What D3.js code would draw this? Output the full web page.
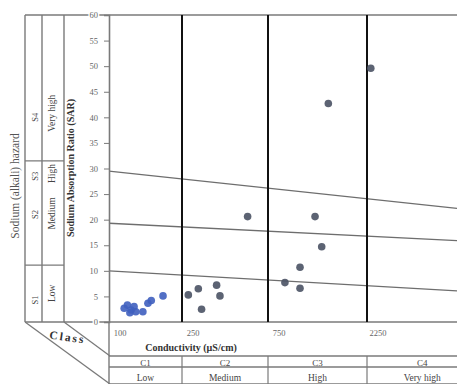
<!DOCTYPE html>
<html><head><meta charset="utf-8">
<script src="https://cdn.jsdelivr.net/npm/d3@7"></script>
<style>
body{margin:0;background:#fff}
svg{display:block}
text{font-family:"Liberation Serif","Times New Roman",serif}
</style>
</head><body>
<svg id="c" width="457" height="384"></svg>
<script>
// ---- data ----
const ecTicks = [100, 250, 750, 2250];
const ecTickLabels = ["100", "250", "750", "2250"];
const sarTicks = [0, 5, 10, 15, 20, 25, 30, 35, 40, 45, 50, 55, 60];
const classCodes = ["C1", "C2", "C3", "C4"];
const classNames = ["Low", "Medium", "High", "Very high"];
const classBounds = [100, 250, 750, 2250, 7500];
const sCodes = ["S1", "S2", "S3", "S4"];
const sNames = ["Low", "Medium", "High", "Very high"];
const sCodeAt = [4.3, 21, 28.5, 40];
const sNameAt = [5.6, 21.2, 29, 40.8];
const sPanelBounds = [11.1, 31.5];
// sodium hazard boundary lines (SAR at EC start / end)
const boundaryEC = [100, 6000];
const boundaryS1S2 = [10.0, 6.1];
const boundaryS2S3 = [19.3, 15.9];
const boundaryS3S4 = [29.5, 22.2];
// samples
const blueEC  = [121, 126, 132, 137, 140, 153, 130, 163, 170, 197];
const blueSAR = [2.7, 3.3, 2.35, 3.0, 2.0, 2.0, 1.8, 3.65, 4.2, 5.1];
const greyEC  = [271, 308, 389, 406, 321, 578, 905, 1070, 1070, 1264, 1361, 1465, 2345];
const greySAR = [5.3, 6.5, 7.2, 5.1, 2.5, 20.6, 7.7, 6.6, 10.7, 20.6, 14.7, 42.7, 49.6];

// ---- layout ----
const svg = d3.select("#c");
const x = d3.scaleLog().domain([100, 250, 750, 2250, 6000]).range([109, 182, 268, 367, 457]);
const y = d3.scaleLinear().domain([0, 60]).range([322, 15]);
const gray = "#7a7a7a";
const panelX = [25, 42, 64];

svg.append("line").attr("x1", 25).attr("x2", 457).attr("y1", y(60)).attr("y2", y(60))
  .attr("stroke", gray).attr("stroke-width", 1.6);
svg.append("line").attr("x1", 25).attr("x2", 457).attr("y1", y(0)).attr("y2", y(0))
  .attr("stroke", gray).attr("stroke-width", 1.4);
panelX.forEach(px => svg.append("line").attr("x1", px).attr("x2", px).attr("y1", y(60)).attr("y2", y(0))
  .attr("stroke", gray).attr("stroke-width", 1.4));
sPanelBounds.forEach(s => svg.append("line").attr("x1", 25).attr("x2", 64).attr("y1", y(s)).attr("y2", y(s))
  .attr("stroke", gray).attr("stroke-width", 1.2));

[boundaryS1S2, boundaryS2S3, boundaryS3S4].forEach(b => {
  svg.append("line")
    .attr("x1", x(boundaryEC[0])).attr("y1", y(b[0]))
    .attr("x2", x(boundaryEC[1])).attr("y2", y(b[1]))
    .attr("stroke", "#6e6e6e").attr("stroke-width", 1.3);
});

ecTicks.slice(1).forEach(v => svg.append("line").attr("x1", x(v)).attr("x2", x(v))
  .attr("y1", y(60)).attr("y2", y(0)).attr("stroke", "#111").attr("stroke-width", 2));

const yAxis = d3.axisLeft(y).tickValues(sarTicks).tickSize(5).tickPadding(6).tickFormat(d3.format("d"));
const ga = svg.append("g").attr("transform", `translate(${x(100)},0)`).call(yAxis);
ga.attr("font-family", null);
ga.select(".domain").attr("stroke", gray).attr("stroke-width", 1.6);
ga.selectAll(".tick line").attr("stroke", gray);
ga.selectAll(".tick text").attr("fill", "#666").style("font-size", "8.5px")
  .style("font-family", "'Liberation Serif',serif")
  .attr("stroke", "#fff").attr("stroke-width", 3).attr("paint-order", "stroke");

const pts = blueEC.map((e, i) => ({ec: e, sar: blueSAR[i], c: "#3f5fbf"}))
  .concat(greyEC.map((e, i) => ({ec: e, sar: greySAR[i], c: "#4a5264"})));
svg.append("g").selectAll("circle").data(pts).join("circle")
  .attr("cx", d => x(d.ec)).attr("cy", d => y(d.sar)).attr("r", 3.8)
  .attr("fill", d => d.c).attr("fill-opacity", 0.9);

svg.append("g").selectAll("text").data(ecTicks).join("text")
  .attr("x", d => x(d) + 11).attr("y", 336).attr("text-anchor", "middle")
  .attr("fill", "#666").style("font-size", "8.5px")
  .text((d, i) => ecTickLabels[i]);
svg.append("text").attr("x", 191).attr("y", 351).attr("text-anchor", "middle")
  .attr("fill", "#333").style("font-size", "10px").style("font-weight", "bold")
  .text("Conductivity (µS/cm)");

[356, 367, 384].forEach(yy => svg.append("line").attr("x1", x(100)).attr("x2", 457)
  .attr("y1", yy).attr("y2", yy).attr("stroke", gray).attr("stroke-width", 1.3));
svg.append("line").attr("x1", x(100)).attr("x2", x(100)).attr("y1", 322).attr("y2", 384)
  .attr("stroke", gray).attr("stroke-width", 1.4);
classBounds.slice(1, 4).forEach(v => svg.append("line").attr("x1", x(v)).attr("x2", x(v))
  .attr("y1", 356).attr("y2", 384).attr("stroke", gray).attr("stroke-width", 1.2));
classCodes.forEach((c, i) => {
  const cx = (x(classBounds[i]) + x(classBounds[i + 1])) / 2;
  svg.append("text").attr("x", cx).attr("y", 365.5).attr("text-anchor", "middle")
    .attr("fill", "#444").style("font-size", "9px").text(c);
  svg.append("text").attr("x", cx).attr("y", 381).attr("text-anchor", "middle")
    .attr("fill", "#444").style("font-size", "9.5px").text(classNames[i]);
});

svg.append("line").attr("x1", 25).attr("y1", 322).attr("x2", 110).attr("y2", 384)
  .attr("stroke", gray).attr("stroke-width", 1.3);
svg.append("line").attr("x1", 64).attr("y1", 322).attr("x2", 110).attr("y2", 356)
  .attr("stroke", gray).attr("stroke-width", 1.3);
svg.append("text").attr("transform", "translate(67,341) rotate(8)").attr("text-anchor", "middle")
  .attr("fill", "#333").style("font-size", "11.5px").style("font-weight", "bold")
  .style("letter-spacing", "2px").text("Class");

function vtext(tx, ty, s, size, bold, fill) {
  svg.append("text").attr("transform", `translate(${tx},${ty}) rotate(-90)`)
    .attr("text-anchor", "middle").attr("dominant-baseline", "central")
    .attr("fill", fill || "#444").style("font-size", size + "px")
    .style("font-weight", bold ? "bold" : "normal").text(s);
}
vtext(15, 186, "Sodium (alkali) hazard", 11.5, false, "#555");
sCodes.forEach((s, i) => vtext(35, y(sCodeAt[i]), s, 8.5, false));
sNames.forEach((s, i) => vtext(52, y(sNameAt[i]), s, 9.5, false));
vtext(70, 168, "Sodium Absorption Ratio (SAR)", 10, true, "#333");
</script>
</body></html>
